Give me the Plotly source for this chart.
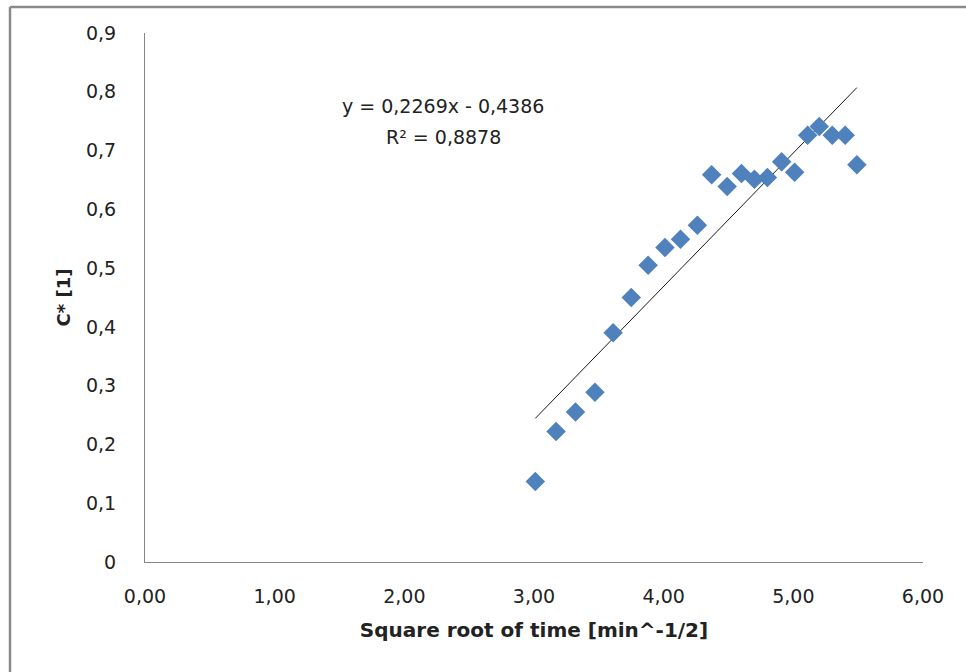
import plotly.graph_objects as go

# data
x_vals = [3.01, 3.17, 3.32, 3.47, 3.61, 3.75, 3.88, 4.01, 4.13, 4.26, 4.37, 4.49,
          4.60, 4.70, 4.80, 4.91, 5.01, 5.11, 5.20, 5.30, 5.40, 5.49]
y_vals = [0.137, 0.222, 0.255, 0.289, 0.390, 0.450, 0.505, 0.535, 0.549, 0.573, 0.659, 0.639,
          0.661, 0.651, 0.654, 0.681, 0.663, 0.726, 0.741, 0.726, 0.726, 0.676]
slope = 0.2269
intercept = -0.4386
r2 = 0.8878

x_tick_vals = [0, 1, 2, 3, 4, 5, 6]
x_tick_text = ["0,00", "1,00", "2,00", "3,00", "4,00", "5,00", "6,00"]
y_tick_vals = [0, 0.1, 0.2, 0.3, 0.4, 0.5, 0.6, 0.7, 0.8, 0.9]
y_tick_text = ["0", "0,1", "0,2", "0,3", "0,4", "0,5", "0,6", "0,7", "0,8", "0,9"]

FONT = "DejaVu Sans"
AXIS_COLOR = "#868686"

fit_x = [min(x_vals), max(x_vals)]
fit_y = [slope * v + intercept for v in fit_x]

fig = go.Figure()
fig.add_trace(go.Scatter(x=fit_x, y=fit_y, mode="lines",
                         line=dict(color="#1a1a1a", width=1), showlegend=False, hoverinfo="skip"))
fig.add_trace(go.Scatter(x=x_vals, y=y_vals, mode="markers",
                         marker=dict(symbol="diamond", size=15, color="#4F81BD", line=dict(width=0)),
                         showlegend=False))

eq_line1 = "y = {}x - {}".format(f"{slope:.4f}".replace(".", ","), f"{-intercept:.4f}".replace(".", ","))
eq_line2 = "R² = {}".format(f"{r2:.4f}".replace(".", ","))

# chart outer border (left and top visible)
L, R, T, B = 145, 43, 33, 110
W, H = 966, 672
pw, ph = W - L - R, H - T - B
def px_x(p):
    return (p - L) / pw
def px_y(p):
    return (H - B - p) / ph

fig.add_annotation(x=px_x(443), y=px_y(106), xref="paper", yref="paper", text=eq_line1, showarrow=False,
                   font=dict(family=FONT, size=19, color="#222"), xanchor="center", yanchor="middle")
fig.add_annotation(x=px_x(443), y=px_y(137), xref="paper", yref="paper", text=eq_line2, showarrow=False,
                   font=dict(family=FONT, size=19, color="#222"), xanchor="center", yanchor="middle")

fig.add_shape(type="line", xref="paper", yref="paper", x0=px_x(10), x1=px_x(10),
              y0=px_y(700), y1=px_y(7), line=dict(color="#8a8a8a", width=2.5))
fig.add_shape(type="line", xref="paper", yref="paper", x0=px_x(10), x1=px_x(990),
              y0=px_y(7), y1=px_y(7), line=dict(color="#8a8a8a", width=2.5))

fig.update_layout(
    width=W, height=H,
    margin=dict(l=L, r=R, t=T, b=B),
    paper_bgcolor="white", plot_bgcolor="white",
    font=dict(family=FONT, size=19, color="#222"),
    xaxis=dict(range=[0, 6], tickvals=x_tick_vals, ticktext=x_tick_text,
               showgrid=False, zeroline=False, showline=True, linecolor=AXIS_COLOR, linewidth=1,
               ticks="", ticklen=0, ticklabelstandoff=17,
               title=dict(text="<b>Square root of time [min^-1/2]</b>", font=dict(size=20), standoff=17)),
    yaxis=dict(range=[0, 0.9], tickvals=y_tick_vals, ticktext=y_tick_text,
               showgrid=False, zeroline=False, showline=True, linecolor=AXIS_COLOR, linewidth=1,
               ticks="", ticklen=0, ticklabelstandoff=24,
               title=dict(text="<b>C* [1]</b>", font=dict(size=18), standoff=10)),
)

fig.write_html("out.html")
